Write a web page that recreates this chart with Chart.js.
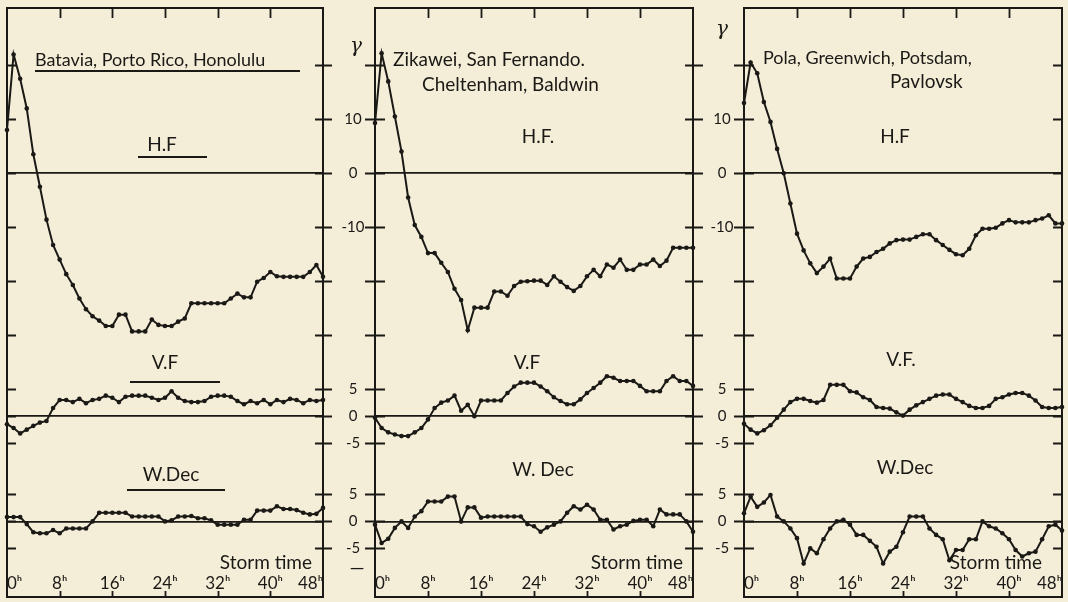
<!DOCTYPE html>
<html>
<head>
<meta charset="utf-8">
<script src="https://cdn.jsdelivr.net/npm/chart.js@4.4.1/dist/chart.umd.min.js"></script>
<style>
  html, body { margin: 0; padding: 0; background: #f4eed9; }
  #wrap { position: relative; width: 1068px; height: 602px; overflow: hidden; background: #f4eed9; }
  #wrap canvas { position: absolute; left: 0; top: 0; width: 1068px; height: 602px; }
</style>
</head>
<body>
<div id="wrap">
  <canvas id="c1" width="1068" height="602"></canvas>
  <canvas id="c2" width="1068" height="602"></canvas>
  <canvas id="c3" width="1068" height="602"></canvas>
</div>
<script>
// ---------- data (storm time, hours) ----------
const hours = [0,1,2,3,4,5,6,7,8,9,10,11,12,13,14,15,16,17,18,19,20,21,22,23,24,
               25,26,27,28,29,30,31,32,33,34,35,36,37,38,39,40,41,42,43,44,45,46,47,48];
const xTickHours = [0, 8, 16, 24, 32, 40, 48];
const hfTickValues = [20, 10, 0, -10, -20, -30];
const hfTickLabels = ['', '10', '0', '-10', '', ''];
const smallTickValues = [5, 0, -5];
const smallTickLabels = ['5', '0', '-5'];

// Batavia, Porto Rico, Honolulu
const hfBatavia = [8, 22, 17.5, 12, 3.5, -2.5, -8.6, -13.3, -16, -18.7, -20.7, -23.2, -25.2, -26.5, -27.3, -28.3, -28.3,
  -26.2, -26.2, -29.3, -29.3, -29.3, -27.1, -28.1, -28.3, -28.3, -27.5, -26.9, -24.1, -24.1, -24.1, -24.1, -24.1,
  -24.1, -23.2, -22.3, -23, -23, -20.1, -19.4, -18.3, -19.1, -19.2, -19.2, -19.2, -19.2, -18.3, -17, -19.2];
const vfBatavia = [-1.5, -2.2, -3.2, -2.5, -1.8, -1.2, -0.9, 1.5, 3, 3, 2.6, 3.2, 2.4, 3, 3.2, 3.8, 3.4,
  2.6, 3.6, 3.8, 3.8, 3.8, 3.4, 3.0, 3.4, 4.6, 3.4, 2.8, 2.6, 2.6, 2.8, 3.6, 3.8, 3.8, 3.6, 2.8,
  2.2, 2.8, 2.4, 3.0, 2.2, 3.0, 2.6, 3.2, 3.0, 2.4, 3.0, 2.8, 3.0];
const wdBatavia = [0.8, 0.8, 0.8, -0.5, -2.0, -2.2, -2.2, -1.6, -2.2, -1.3, -1.3, -1.3, -1.3, 0, 1.6, 1.6, 1.6,
  1.6, 1.6, 0.9, 0.9, 0.9, 0.9, 0.9, 0, 0.2, 0.9, 0.9, 1.0, 0.6, 0.6, 0.2, -0.6, -0.6, -0.6, -0.6,
  0.3, 0.3, 2.0, 2.0, 2.0, 2.8, 2.3, 2.3, 2.1, 1.6, 1.3, 1.4, 2.5];

// Zikawei, San Fernando, Cheltenham, Baldwin
const hfZikawei = [9.3, 22.2, 17, 10.5, 4, -4.5, -9.6, -11.8, -14.8, -14.8, -16.6, -18.3, -21.4, -23.5, -29.1, -24.9,
  -24.9, -24.9, -21.9, -21.9, -22.7, -20.9, -20.1, -20.0, -19.9, -19.9, -20.7, -19.1, -20.1, -21.1, -21.8, -20.9,
  -19.1, -17.9, -19.1, -16.9, -17.5, -16, -17.9, -17.9, -16.9, -16.9, -16, -17.2, -16.2, -13.8, -13.8, -13.8, -13.8];
const vfZikawei = [-0.3, -2.2, -3.0, -3.4, -3.7, -3.7, -3.0, -2.2, -0.6, 1.5, 2.5, 2.9, 3.8, 1.0, 2.1, 0, 2.9,
  2.9, 2.9, 2.9, 4.3, 5.5, 6.2, 6.2, 6.2, 5.5, 4.6, 3.5, 2.8, 2.2, 2.2, 3.1, 4.3, 5.2, 6.2, 7.4, 7.1,
  6.5, 6.5, 6.5, 5.6, 4.6, 4.6, 4.6, 6.5, 7.4, 6.5, 6.5, 5.6];
const wdZikawei = [-0.6, -4, -3.2, -1.2, 0, -1.2, 0.9, 1.9, 3.7, 3.7, 3.7, 4.6, 4.6, 0, 2.6, 2.6, 0.7,
  0.9, 0.9, 0.9, 0.9, 0.9, 0.9, -0.5, -0.9, -1.9, -1.1, -0.6, 0, 1.6, 2.8, 2.2, 3.1, 2.2, 0.3, 0.3,
  -1.5, -0.9, -0.6, 0.1, 0.3, 0.3, -0.9, 2.2, 1.3, 1.3, 1.3, 0, -1.9];

// Pola, Greenwich, Potsdam, Pavlovsk
const hfPola = [13, 20.5, 18.5, 13.2, 9.5, 4.5, 0, -5.6, -11.2, -14.3, -16.7, -18.5, -17.3, -15.8, -19.5, -19.5,
  -19.5, -17.3, -15.8, -15.5, -14.6, -14, -13, -12.4, -12.3, -12.3, -11.8, -11.3, -11.3, -12.4, -13.3, -14.2,
  -15, -15.2, -14, -11.5, -10.3, -10.3, -10.1, -9.3, -8.7, -9.1, -9.1, -9.1, -8.7, -8.4, -7.8, -9.3, -9.3];
const vfPola = [-1.4, -2.5, -3.2, -2.6, -1.7, -0.3, 1.2, 2.6, 3.2, 3.2, 2.8, 2.5, 3, 5.8, 5.8, 5.8, 4.6,
  4.4, 3.5, 3, 1.7, 1.5, 1.4, 0.7, 0.1, 1.2, 2.0, 2.6, 3.2, 3.8, 4.0, 4.0, 3.2, 2.6, 1.9, 1.5, 1.5,
  1.9, 3.2, 3.5, 4.0, 4.3, 4.3, 3.8, 2.9, 1.7, 1.5, 1.5, 1.7];
const wdPola = [1.5, 4.6, 2.7, 3.5, 4.9, 0.9, 0, -1.3, -3.1, -7.8, -5, -5.9, -3.3, -1.3, 0, 0.3, -0.6,
  -2.5, -2.5, -3.6, -4.7, -7.8, -5.6, -4.7, -2, 0.9, 0.9, 0.9, -1.3, -2.5, -3.3, -7.2, -5.3, -5.3, -3.3,
  -3.3, 0, -0.9, -1.3, -2.2, -3.3, -5.3, -6.5, -5.9, -5.6, -3.3, -0.9, -0.6, -1.7];

// ---------- layout / style ----------
const INK = '#1b1915';
const Y_MIN = -78.5, Y_MAX = 30.6;          // one shared γ scale per panel
const OFFSET = { hf: 0, vf: -45, wd: -64.5 }; // baselines of the three traces
const CHART_TOP = 8, CHART_BOTTOM = 597, W = 1068, H = 602;
const LABEL_FONT = 'Lato, "DejaVu Sans", sans-serif';

const tickMarks = {
  id: 'tickMarks',
  afterDraw(chart, args, o) {
    const { ctx, chartArea: a, scales: { x, y } } = chart;
    ctx.save();
    ctx.strokeStyle = INK; ctx.lineWidth = 1.8;
    ctx.beginPath();
    for (const v of o.yValues) {
      const py = Math.round(y.getPixelForValue(v)) + 0.5;
      ctx.moveTo(a.left + o.leftSpan[0], py); ctx.lineTo(a.left + o.leftSpan[1], py);
      ctx.moveTo(a.right + o.rightSpan[0], py); ctx.lineTo(a.right + o.rightSpan[1], py);
    }
    for (const h of o.xValues) {
      const px = Math.round(x.getPixelForValue(h)) + 0.5;
      ctx.moveTo(px, a.top); ctx.lineTo(px, a.top + 10);
      ctx.moveTo(px, a.bottom); ctx.lineTo(px, a.bottom - 6);
    }
    ctx.stroke();
    ctx.restore();
  }
};

const annot = {
  id: 'annot',
  afterDraw(chart, args, o) {
    const { ctx, chartArea: a } = chart;
    ctx.save();
    ctx.fillStyle = INK; ctx.strokeStyle = INK;
    for (const t of o.items) {
      ctx.font = t.font;
      ctx.textAlign = t.align || 'left';
      ctx.textBaseline = 'middle';
      ctx.fillText(t.text, a.left + t.dx, t.y);
      if (t.ul) {
        ctx.lineWidth = 2;
        ctx.beginPath();
        ctx.moveTo(a.left + t.ul[0], t.ul[2]);
        ctx.lineTo(a.left + t.ul[1], t.ul[2]);
        ctx.stroke();
      }
    }
    ctx.restore();
  }
};

function series(values, off) {
  return {
    data: hours.map((h, i) => ({ x: h, y: values[i] + off })),
    borderColor: INK, borderWidth: 2, tension: 0,
    pointRadius: 2.3, pointBackgroundColor: INK, pointBorderWidth: 0,
    clip: false
  };
}

function makePanel(id, p) {
  const tickList = [];
  hfTickValues.forEach((v, i) => tickList.push({ value: v + OFFSET.hf, label: hfTickLabels[i] }));
  smallTickValues.forEach((v, i) => tickList.push({ value: v + OFFSET.vf, label: smallTickLabels[i] }));
  smallTickValues.forEach((v, i) => tickList.push({ value: v + OFFSET.wd, label: smallTickLabels[i] }));
  const labelOf = new Map(tickList.map(t => [t.value, t.label]));
  const zeros = new Set([OFFSET.hf, OFFSET.vf, OFFSET.wd]);

  new Chart(document.getElementById(id), {
    type: 'line',
    data: { datasets: [series(p.hf, OFFSET.hf), series(p.vf, OFFSET.vf), series(p.wd, OFFSET.wd)] },
    plugins: [tickMarks, annot],
    options: {
      responsive: false, animation: false, devicePixelRatio: 1,
      layout: { padding: { left: p.left - p.labelW, right: W - p.right, top: CHART_TOP, bottom: H - CHART_BOTTOM } },
      plugins: {
        legend: { display: false }, tooltip: { enabled: false },
        tickMarks: { yValues: tickList.map(t => t.value), xValues: xTickHours.slice(1, -1), leftSpan: p.leftSpan, rightSpan: p.rightSpan },
        annot: { items: p.texts }
      },
      scales: {
        x: {
          type: 'linear', position: 'bottom', min: 0, max: 48,
          afterBuildTicks: s => { s.ticks = xTickHours.map(v => ({ value: v })); },
          ticks: { callback: v => v + 'ʰ', align: 'inner', mirror: true, padding: 3, autoSkip: false, maxRotation: 0,
                   color: INK, font: { family: LABEL_FONT, size: 17 } },
          grid: { display: false },
          border: { display: true, color: INK, width: 2 },
          afterFit: s => { s.height = 0; s.paddingLeft = 0; s.paddingRight = 0; }
        },
        xt: {
          type: 'linear', position: 'top', min: 0, max: 48,
          ticks: { display: false }, grid: { display: false },
          border: { display: true, color: INK, width: 2 },
          afterFit: s => { s.height = 0; }
        },
        y: {
          type: 'linear', position: 'left', min: Y_MIN, max: Y_MAX,
          afterBuildTicks: s => { s.ticks = tickList.map(t => ({ value: t.value })); },
          ticks: { display: p.showLabels, callback: v => labelOf.get(v) ?? '', crossAlign: 'center', padding: 10.5,
                   color: INK, font: { family: LABEL_FONT, size: 15 } },
          grid: { display: true, drawTicks: false, drawOnChartArea: true, lineWidth: 1.8,
                  color: c => (c.tick && zeros.has(c.tick.value)) ? INK : 'rgba(0,0,0,0)' },
          border: { display: true, color: INK, width: 2 },
          afterFit: s => { s.width = p.labelW; s.paddingTop = 0; s.paddingBottom = 0; }
        },
        yr: {
          type: 'linear', position: 'right', min: Y_MIN, max: Y_MAX,
          ticks: { display: false }, grid: { display: false },
          border: { display: true, color: INK, width: 2 },
          afterFit: s => { s.width = 0; }
        }
      }
    }
  });
}

const F_NAME = '18px ' + LABEL_FONT;
const F_COMP = '19px ' + LABEL_FONT;
const F_GAMMA = 'italic 20px "DejaVu Serif", serif';

makePanel('c1', {
  left: 7, right: 323, labelW: 0, showLabels: false,
  leftSpan: [0, 9], rightSpan: [-8, 9],
  hf: hfBatavia, vf: vfBatavia, wd: wdBatavia,
  texts: [
    { text: 'Batavia, Porto Rico, Honolulu', dx: 28, y: 60, font: F_NAME, ul: [28, 293, 71] },
    { text: 'H.F', dx: 155, y: 145, align: 'center', font: F_COMP, ul: [131, 200, 157] },
    { text: 'V.F', dx: 158, y: 363, align: 'center', font: F_COMP, ul: [123, 213, 382] },
    { text: 'W.Dec', dx: 164, y: 475, align: 'center', font: F_COMP, ul: [120, 218, 490] },
    { text: 'Storm time', dx: 305, y: 563, align: 'right', font: F_COMP }
  ]
});

makePanel('c2', {
  left: 375, right: 693, labelW: 40, showLabels: true,
  leftSpan: [-10, 10], rightSpan: [-8, 10],
  hf: hfZikawei, vf: vfZikawei, wd: wdZikawei,
  texts: [
    { text: 'γ', dx: -19, y: 47, align: 'center', font: F_GAMMA },
    { text: 'Zikawei, San Fernando.', dx: 18, y: 60, font: F_COMP },
    { text: 'Cheltenham, Baldwin', dx: 47, y: 85, font: F_COMP },
    { text: 'H.F.', dx: 163, y: 137, align: 'center', font: F_COMP },
    { text: 'V.F', dx: 152, y: 363, align: 'center', font: F_COMP },
    { text: 'W. Dec', dx: 168, y: 470, align: 'center', font: F_COMP },
    { text: 'Storm time', dx: 308, y: 563, align: 'right', font: F_COMP },
    { text: '—', dx: -18, y: 568, align: 'center', font: F_COMP }
  ]
});

makePanel('c3', {
  left: 744, right: 1062, labelW: 40, showLabels: true,
  leftSpan: [-10, 10], rightSpan: [-9, 0],
  hf: hfPola, vf: vfPola, wd: wdPola,
  texts: [
    { text: 'γ', dx: -22, y: 30, align: 'center', font: F_GAMMA },
    { text: 'Pola, Greenwich, Potsdam,', dx: 19, y: 58, font: F_NAME },
    { text: 'Pavlovsk', dx: 146, y: 82, font: F_COMP },
    { text: 'H.F', dx: 151, y: 137, align: 'center', font: F_COMP },
    { text: 'V.F.', dx: 157, y: 360, align: 'center', font: F_COMP },
    { text: 'W.Dec', dx: 161, y: 468, align: 'center', font: F_COMP },
    { text: 'Storm time', dx: 298, y: 563, align: 'right', font: F_COMP }
  ]
});
</script>
</body>
</html>
